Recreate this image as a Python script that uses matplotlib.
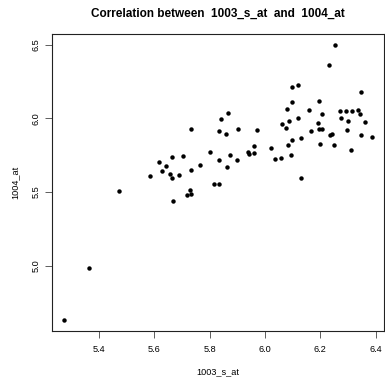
import matplotlib
matplotlib.use('Agg')
import matplotlib.pyplot as plt

# expression values
x_1003 = [5.275, 5.363, 5.472, 5.584, 5.616, 5.628, 5.643, 5.658, 5.665, 5.665,
          5.669, 5.688, 5.703, 5.720, 5.734, 5.731, 5.733, 5.734, 5.764, 5.803,
          5.817, 5.834, 5.834, 5.835, 5.842, 5.860, 5.864, 5.866, 5.875, 5.900,
          5.904, 5.940, 5.944, 5.962, 5.961, 5.971, 6.022, 6.037, 6.057, 6.061,
          6.078, 6.080, 6.084, 6.088, 6.093, 6.098, 6.099, 6.099, 6.118, 6.120,
          6.130, 6.131, 6.159, 6.168, 6.194, 6.193, 6.197, 6.206, 6.199, 6.207,
          6.230, 6.235, 6.242, 6.250, 6.253, 6.271, 6.274, 6.292, 6.297, 6.302,
          6.310, 6.313, 6.338, 6.342, 6.346, 6.347, 6.363, 6.386]
y_1004 = [4.631, 4.982, 5.506, 5.608, 5.703, 5.642, 5.676, 5.621, 5.594, 5.737,
          5.438, 5.614, 5.744, 5.478, 5.485, 5.512, 5.648, 5.925, 5.682, 5.771,
          5.553, 5.553, 5.716, 5.914, 5.995, 5.893, 5.669, 6.036, 5.750, 5.716,
          5.927, 5.771, 5.757, 5.764, 5.812, 5.920, 5.799, 5.723, 5.730, 5.961,
          5.934, 6.063, 5.818, 5.981, 5.750, 6.213, 6.111, 5.852, 6.002, 6.226,
          5.594, 5.866, 6.056, 5.914, 6.117, 5.968, 5.927, 5.930, 5.825, 6.029,
          6.362, 5.886, 5.897, 5.818, 6.498, 6.050, 6.002, 6.050, 5.920, 5.981,
          5.786, 6.050, 6.054, 6.029, 5.886, 6.179, 5.975, 5.873]
x_ticks = [5.4, 5.6, 5.8, 6.0, 6.2, 6.4]
y_ticks = [5.0, 5.5, 6.0, 6.5]

plt.rcParams['font.family'] = 'Liberation Sans'

fig = plt.figure(figsize=(3.85, 3.78), dpi=100)
ax = fig.add_axes([52/385, 1 - 331/378, 332/385, 297/378])

ax.plot(x_1003, y_1004, 'o', color='black', markersize=3.2, markeredgewidth=0)
ax.margins(x=0.04, y=0.04)

ax.set_xticks(x_ticks)
ax.set_xticklabels(['%.1f' % v for v in x_ticks])
ax.set_yticks(y_ticks)
ax.set_yticklabels(['%.1f' % v for v in y_ticks], rotation=90, va='center')
ax.tick_params(axis='both', direction='out', length=5.2, width=0.6,
               color='#444444', labelsize=6.6)
ax.tick_params(axis='x', pad=5)
ax.tick_params(axis='y', pad=3)
ax.tick_params(top=False, right=False)
for s in ax.spines.values():
    s.set_linewidth(0.8)
    s.set_color('#222222')

ax.set_xlabel('1003_s_at', fontsize=6.6, labelpad=9.5)
ax.set_ylabel('1004_at', fontsize=6.6, labelpad=9)
ax.set_title('Correlation between  1003_s_at  and  1004_at',
             fontsize=8.5, fontweight='bold', pad=12.5)

fig.savefig('out.png', dpi=100)
